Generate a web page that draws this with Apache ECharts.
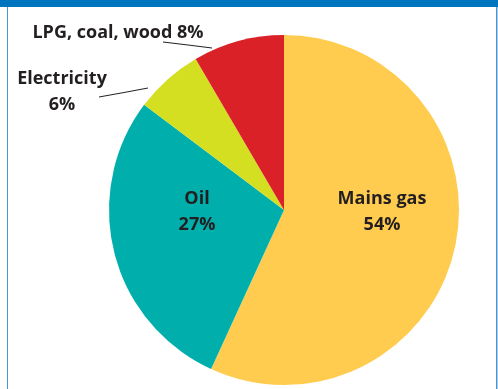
<!DOCTYPE html>
<html>
<head>
<meta charset="utf-8">
<script src="https://cdn.jsdelivr.net/npm/echarts@6/dist/echarts.min.js"></script>
<style>
  html, body { margin: 0; padding: 0; background: #fff; }
  #chart { width: 498px; height: 389px; }
</style>
</head>
<body>
<div id="chart"></div>
<script>
// fuel shares, clockwise from 12 o'clock
var categories = ['Mains gas', 'Oil', 'Electricity', 'LPG, coal, wood'];
var shares = [54, 27, 6, 8];
var colors = ['#FFCC4F', '#00AFAC', '#D5DF22', '#DA2128'];

// where each label sits (annotation only)
var labelSpots = {
  'Mains gas': { x: 382, y: 212, text: 'Mains gas\n{v}%' },
  'Oil': { x: 197, y: 212, text: 'Oil\n{v}%' },
  'Electricity': { x: 62, y: 92, text: 'Electricity\n{v}%', line: [[99, 97], [124, 92.5], [148, 88]] },
  'LPG, coal, wood': { x: 118, y: 33, text: 'LPG, coal, wood {v}%', line: [[163, 42], [188, 45], [212, 48]] }
}

var chart = echarts.init(document.getElementById('chart'))

var option = {
  animation: false,
  graphic: [
    // frame
    { type: 'rect', shape: { x: 0, y: 0, width: 498, height: 7 }, style: { fill: '#0075BF' }, z: 10 },
    { type: 'rect', shape: { x: 7, y: 7, width: 1, height: 382 }, style: { fill: '#4B96D2' }, z: 10 },
    { type: 'rect', shape: { x: 496, y: 7, width: 1.5, height: 382 }, style: { fill: '#4B96D2' }, z: 10 }
  ],
  series: [{
    type: 'pie',
    center: [284, 210],
    radius: 175,
    startAngle: 90,
    clockwise: true,
    silent: true,
    itemStyle: { borderWidth: 0 },
    label: {
      color: '#231F20',
      fontFamily: 'Open Sans',
      fontWeight: 'bold',
      fontSize: 18,
      lineHeight: 26,
      formatter: function (p) {
        return labelSpots[p.name].text.replace('{v}', p.value)
      }
    },
    labelLine: { lineStyle: { color: '#231F20', width: 1 } },
    labelLayout: function (p) {
      var spot = labelSpots[categories[p.dataIndex]]
      var out = { x: spot.x, y: spot.y, align: 'center', verticalAlign: 'middle' }
      if (spot.line) out.labelLinePoints = spot.line
      return out
    },
    data: categories.map(function (name, i) {
      var outside = !!labelSpots[name].line
      return {
        name: name,
        value: shares[i],
        itemStyle: { color: colors[i] },
        label: { position: outside ? 'outside' : 'inside' },
        labelLine: { show: outside }
      }
    })
  }]
}

chart.setOption(option)
</script>
</body>
</html>
